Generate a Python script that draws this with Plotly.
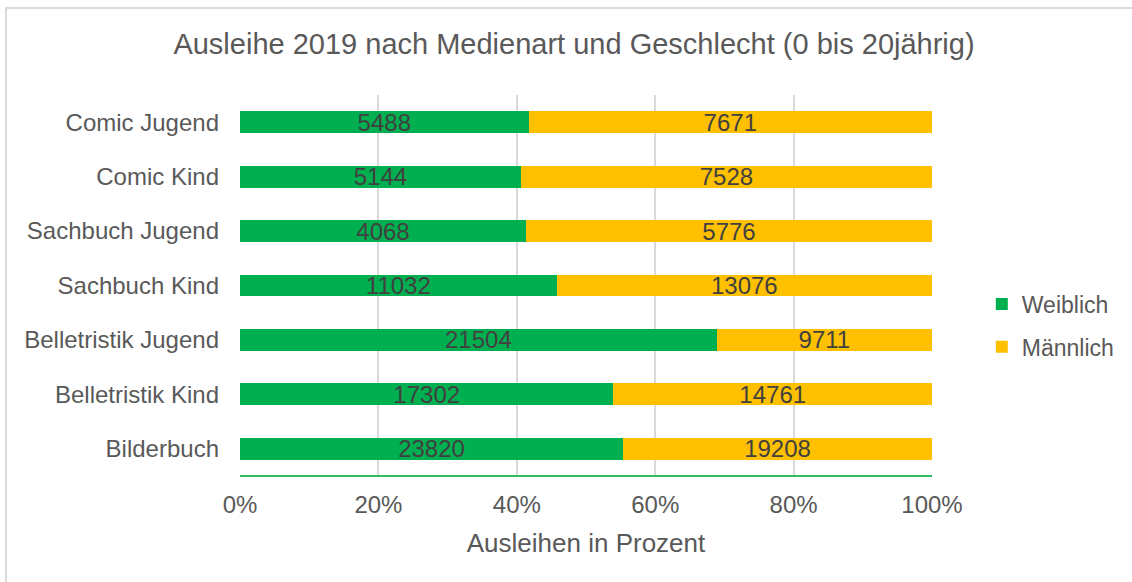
import plotly.graph_objects as go

categories = ["Bilderbuch", "Belletristik Kind", "Belletristik Jugend", "Sachbuch Kind",
              "Sachbuch Jugend", "Comic Kind", "Comic Jugend"]
weiblich = [23820, 17302, 21504, 11032, 4068, 5144, 5488]
maennlich = [19208, 14761, 9711, 13076, 5776, 7528, 7671]
x_ticks = [0, 20, 40, 60, 80, 100]
x_tick_labels = ["0%", "20%", "40%", "60%", "80%", "100%"]

FONT = "Liberation Sans, Arial, sans-serif"

fig = go.Figure()
fig.add_trace(go.Bar(
    y=categories, x=weiblich, name="Weiblich", orientation="h", legendgroup="w",
    marker=dict(color="#00B050", line=dict(width=0)),
    text=[str(v) for v in weiblich], textposition="inside",
    insidetextanchor="middle", textangle=0,
    textfont=dict(family=FONT, size=24, color="#404040"),
))
fig.add_trace(go.Bar(
    y=categories, x=maennlich, name="Männlich", orientation="h", legendgroup="m",
    marker=dict(color="#FFC000", line=dict(width=0)),
    text=[str(v) for v in maennlich], textposition="inside",
    insidetextanchor="middle", textangle=0,
    textfont=dict(family=FONT, size=24, color="#404040"),
))

fig.update_layout(
    barmode="stack", barnorm="percent", bargap=0.6,
    width=1132, height=582,
    margin=dict(l=240, r=200, t=95, b=106),
    paper_bgcolor="white", plot_bgcolor="white",
    font=dict(family=FONT, color="#595959"),
    uniformtext=dict(mode="show", minsize=24),
    title=dict(text="Ausleihe 2019 nach Medienart und Geschlecht (0 bis 20jährig)",
               x=(574 - 240) / 692, xref="paper", xanchor="center",
               y=0.924, yanchor="middle",
               font=dict(family=FONT, size=29, color="#595959")),
    xaxis=dict(range=[0, 100], tickvals=x_ticks, ticktext=x_tick_labels,
               showgrid=True, gridcolor="#D9D9D9", gridwidth=1.5, zeroline=False,
               showline=False, ticks="", ticklabelstandoff=12,
               tickfont=dict(family=FONT, size=24, color="#595959"),
               title=dict(text="Ausleihen in Prozent", standoff=16,
                          font=dict(family=FONT, size=26, color="#595959"))),
    yaxis=dict(categoryorder="array", categoryarray=categories,
               showgrid=False, showline=False, ticks="", ticklen=0,
               ticklabelstandoff=20,
               tickfont=dict(family=FONT, size=24, color="#595959")),
    legend=dict(x=1.072, y=0.395, xanchor="left", yanchor="middle",
                font=dict(family=FONT, size=23, color="#595959"),
                itemwidth=30, tracegroupgap=10, traceorder="grouped",
                bgcolor="rgba(0,0,0,0)"),
    showlegend=True,
)

# bottom axis line (green) and outer border
fig.add_shape(type="line", xref="paper", yref="paper", x0=0, x1=1, y0=0, y1=0,
              line=dict(color="#2DBE62", width=2))
fig.add_shape(type="rect", xref="paper", yref="paper",
              x0=(6 - 240) / 692, x1=(1160 - 240) / 692,
              y0=(476 - 620) / 381, y1=(476 - 8) / 381,
              line=dict(color="#D9D9D9", width=2), layer="below")

fig.write_html("out.html", config={"displayModeBar": False},
               post_script="document.body.style.margin='0';document.body.style.overflow='hidden';")
